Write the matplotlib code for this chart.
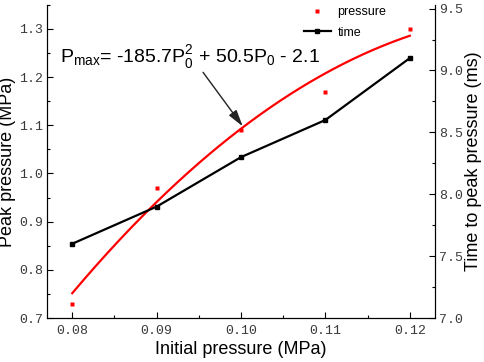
import matplotlib
matplotlib.use("Agg")
import matplotlib.pyplot as plt
import numpy as np

# data
initial_pressure = [0.08, 0.09, 0.10, 0.11, 0.12]
peak_pressure = [0.73, 0.97, 1.09, 1.17, 1.30]
time_to_peak = [7.6, 7.9, 8.3, 8.6, 9.1]
# quadratic fit shown on the chart: Pmax = a*P0^2 + b*P0 + c
fit_coeffs = [-185.7, 50.5, -2.1]
x_ticks = [0.08, 0.09, 0.10, 0.11, 0.12]
x_tick_labels = ['0.08', '0.09', '0.10', '0.11', '0.12']
left_ticks = [0.7, 0.8, 0.9, 1.0, 1.1, 1.2, 1.3]
left_tick_labels = ['0.7', '0.8', '0.9', '1.0', '1.1', '1.2', '1.3']
right_ticks = [7.0, 7.5, 8.0, 8.5, 9.0, 9.5]
right_tick_labels = ['7.0', '7.5', '8.0', '8.5', '9.0', '9.5']

SANS = 'Liberation Sans'
TICKFONT = 'Liberation Mono'
TICKCOLOR = '#3a3a3a'

plt.rcParams['font.family'] = SANS
plt.rcParams['mathtext.fontset'] = 'custom'
plt.rcParams['mathtext.rm'] = SANS

fig = plt.figure(figsize=(4.84, 3.62), dpi=100)
ax1 = fig.add_axes([0.097, 0.1215, 0.802, 0.865])
ax2 = ax1.twinx()

# fitted curve over the measured range
xs = np.linspace(initial_pressure[0], initial_pressure[-1], 200)
ax1.plot(xs, np.polyval(fit_coeffs, xs), color='#ff0000', lw=1.6, zorder=2)
ax1.plot(initial_pressure, peak_pressure, 's', color='#ff0000', ms=3,
         mec='none', zorder=3, label='pressure')
ax2.plot(initial_pressure, time_to_peak, '-s', color='black', lw=1.6, ms=3,
         label='time')

ax1.set_xlim(0.077, 0.123)
ax1.set_ylim(0.7, 1.35)
ax2.set_ylim(7.0, 9.53)

ax1.set_xticks(x_ticks)
ax1.set_xticklabels(x_tick_labels)
ax1.set_xticks(np.arange(0.085, 0.12, 0.01), minor=True)
ax1.set_yticks(left_ticks)
ax1.set_yticklabels(left_tick_labels)
ax1.set_yticks(np.arange(0.75, 1.35, 0.1), minor=True)
ax2.set_yticks(right_ticks)
ax2.set_yticklabels(right_tick_labels)
ax2.set_yticks(np.arange(7.25, 9.5, 0.5), minor=True)

for ax in (ax1, ax2):
    ax.spines['top'].set_visible(False)
    ax.tick_params(which='major', direction='in', length=4, width=0.8,
                   labelsize=9.5, labelcolor=TICKCOLOR)
    ax.tick_params(which='minor', direction='in', length=2.5, width=0.8)
    for lab in ax.get_xticklabels() + ax.get_yticklabels():
        lab.set_fontfamily(TICKFONT)
ax1.tick_params(axis='y', pad=3)
ax1.tick_params(axis='x', pad=5)
ax2.tick_params(axis='y', pad=3)

ax1.set_xlabel('Initial pressure (MPa)', fontsize=13, labelpad=3)
ax1.set_ylabel('Peak pressure (MPa)', fontsize=13, labelpad=2)
ax2.set_ylabel('Time to peak pressure (ms)', fontsize=13, labelpad=1)

ax1.text(0.0785, 1.228,
         r'P$_{\mathrm{max}}$= -185.7P$_{\mathrm{0}}^{\mathrm{2}}$ + 50.5P$_{\mathrm{0}}$ - 2.1',
         fontsize=14, va='baseline', ha='left')
ax1.annotate('', xy=(0.1002, 1.098), xytext=(0.0955, 1.21),
             arrowprops=dict(arrowstyle='-|>,head_length=1.0,head_width=0.28',
                             color='#222222', lw=1.0, shrinkA=0, shrinkB=0))

h1, l1 = ax1.get_legend_handles_labels()
h2, l2 = ax2.get_legend_handles_labels()
ax2.legend(h1 + h2, l1 + l2, loc='upper left', bbox_to_anchor=(0.645, 1.015),
           frameon=False, fontsize=9, handlelength=2.2, handletextpad=0.5,
           labelspacing=0.65, borderaxespad=0.1)

fig.savefig('out.png', dpi=100)
